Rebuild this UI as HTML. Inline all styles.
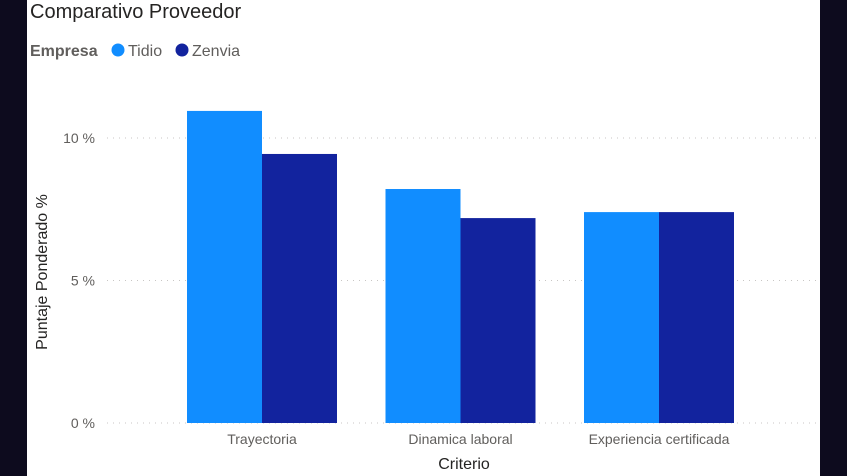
<!DOCTYPE html>
<html><head><meta charset="utf-8"><style>
body{margin:0;width:847px;height:476px;background:#0d0b1e;overflow:hidden;font-family:"Liberation Sans",sans-serif}
#card{position:absolute;left:27px;top:0;width:793px;height:476px;background:#fff}
</style></head><body>
<div id="card"></div>
<svg width="847" height="476" style="position:absolute;left:0;top:0">
<text x="30" y="18" font-size="20" fill="#252423">Comparativo Proveedor</text>
<g>
<text x="30" y="56" font-size="16" font-weight="bold" fill="#605e5c">Empresa</text>
<circle cx="118" cy="50" r="6.5" fill="#118dff"/>
<text x="128" y="56" font-size="16" fill="#605e5c">Tidio</text>
<circle cx="182" cy="50" r="6.5" fill="#12239e"/>
<text x="192" y="56" font-size="16" fill="#605e5c">Zenvia</text>
</g>
<g id="grid"></g><g id="bars"></g><g id="labels"></g>
<text transform="translate(47,272) rotate(-90)" text-anchor="middle" font-size="16" fill="#252423">Puntaje Ponderado %</text>
<text x="464" y="469" text-anchor="middle" font-size="16" fill="#252423">Criterio</text>
</svg>
<script>
const categories=["Trayectoria","Dinamica laboral","Experiencia certificada"];
const tidio=[10.95,8.21,7.40];
const zenvia=[9.44,7.19,7.40];
const yTicks=[0,5,10];
const tickLabels=["0 %","5 %","10 %"];
const NS="http://www.w3.org/2000/svg";
const y=v=>423-v*28.5;
const xc=i=>262+i*198.5;
const BW=75;
function mk(tag,attrs,parent){const e=document.createElementNS(NS,tag);for(const k in attrs)e.setAttribute(k,attrs[k]);document.getElementById(parent).appendChild(e);return e;}
yTicks.forEach((t,i)=>{
 const l=mk('line',{x1:107,x2:816,y1:y(t),y2:y(t),stroke:'#c8c6c4','stroke-dasharray':'1 5'},'grid');
 
 
 const tx=mk('text',{x:95,y:y(t)+5,'text-anchor':'end','font-size':14,fill:'#605e5c'},'labels');
 tx.textContent=tickLabels[i];
 
 
});
categories.forEach((c,i)=>{
 const a=mk('rect',{x:xc(i)-BW,y:y(tidio[i]),width:BW,height:423-y(tidio[i]),fill:'#118dff'},'bars');
 
 
 const b=mk('rect',{x:xc(i),y:y(zenvia[i]),width:BW,height:423-y(zenvia[i]),fill:'#12239e'},'bars');
 
 
 const t=mk('text',{x:xc(i),y:444,'text-anchor':'middle','font-size':14,fill:'#605e5c'},'labels');
 t.textContent=c;
 
 
});
</script>
</body></html>
